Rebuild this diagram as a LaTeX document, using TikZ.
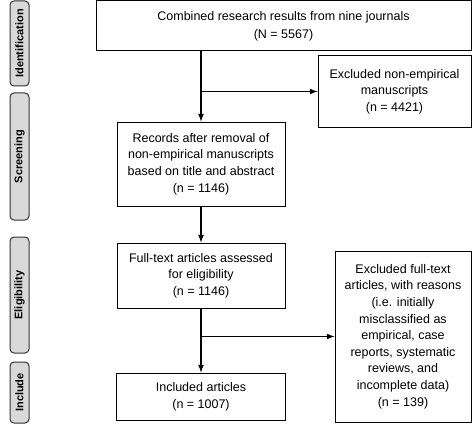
\documentclass[tikz,border=0pt]{standalone}
\usepackage{fontspec}
\setmainfont{Liberation Sans}
\usepackage{tikz}
\usetikzlibrary{calc,arrows,positioning}
\definecolor{mygray}{RGB}{217,217,217}
\tikzstyle{box}=[draw,rectangle,line width=1pt,align=center,inner sep=2pt,font=\fontsize{12.5}{16.6}\selectfont]
\tikzstyle{phase}=[draw=black!80,fill=mygray,rounded corners=4pt,line width=1pt,rotate=90,inner sep=0pt,font=\bfseries\fontsize{11}{13}\selectfont]

\begin{document}
\begin{tikzpicture}[
  x=1pt,
  y=-1pt,
  flow/.style={-latex, line width=1.6pt},
  wide/.style={font=\fontsize{12.5}{18}\selectfont}
]
\useasboundingbox (0,0) rectangle (473,425);

% phases on the left
\node [phase, minimum width=85pt, minimum height=19pt] (ident) at (19.5,43.5) {Identification};
\node [phase, minimum width=127pt, minimum height=19pt] (screen) at (19.5,156.5) {Screening};
\node [phase, minimum width=116pt, minimum height=19pt] (elig) at (19.5,295) {Eligibility};
\node [phase, minimum width=61pt, minimum height=19pt] (incphase) at (19.5,392.5) {Include};

% main flow
\node [box, wide, minimum width=375pt, minimum height=50pt] (comb) at (283.5,26)
  {Combined research results from nine journals\\(N = 5567)};
\node [box, minimum width=153pt, minimum height=71pt] (excl) at (394.5,91.5)
  {Excluded non-empirical\\manuscripts\\(n = 4421)};
\node [box, minimum width=168pt, minimum height=84pt] (rec) at (201,164)
  {Records after removal of\\non-empirical manuscripts\\based on title and abstract\\(n = 1146)};
\node [box, minimum width=168pt, minimum height=65pt] (full) at (201,275.5)
  {Full-text articles assessed\\for eligibility\\(n = 1146)};
\node [box, minimum width=136pt, minimum height=171pt] (exclft) at (403,336.5)
  {Excluded full-text\\articles, with reasons\\(i.e. initially\\misclassified as\\empirical, case\\reports, systematic\\reviews, and\\incomplete data)\\(n = 139)};
\node [box, minimum width=169pt, minimum height=47pt] (incl) at (201,396.5)
  {Included articles\\(n = 1007)};

\draw [flow] (comb.south -| rec.north) -- (rec.north);
\draw [flow] (excl.west -| rec.north) -- (excl.west);
\draw [flow] (rec) -- (full);
\draw [flow] (full) -- (incl);
\draw [flow] (exclft.west -| full.south) -- (exclft.west);

\end{tikzpicture}
\end{document}
